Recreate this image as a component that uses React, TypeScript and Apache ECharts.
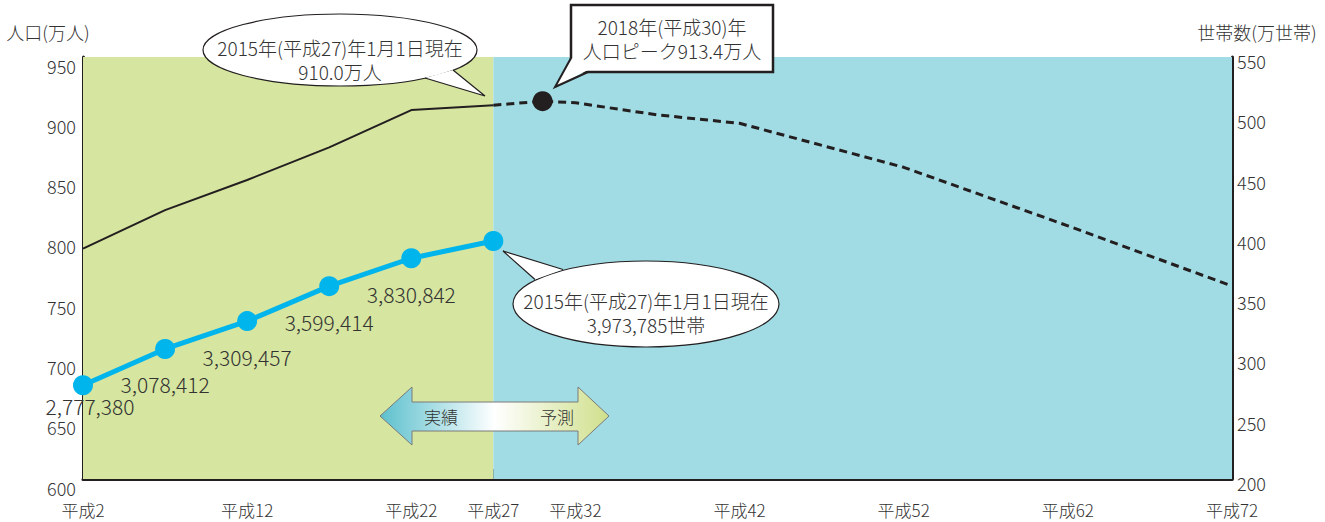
import React, { useEffect, useRef } from 'react';
import * as echarts from 'echarts';

// ---- data ----
const actualYears = [2, 7, 12, 17, 22, 27];
const populationActual = [791, 823, 848, 875, 906, 910.0]; // 万人
const projectionYears = [27, 30, 32, 37, 42, 52, 62, 72];
const populationProjection = [910.0, 913.4, 912, 902, 895, 858.5, 810, 760]; // 万人
const peakYear = 30;
const peakValue = 913.4;
const householdYears = [2, 7, 12, 17, 22, 27];
const households = [2777380, 3078412, 3309457, 3599414, 3830842, 3973785]; // 世帯
const xLabelYears = [2, 12, 22, 27, 32, 42, 52, 62, 72];
const xTickYears = [12, 22, 27, 32, 42, 52, 62];
const actualRange = [2, 27];
const forecastRange = [27, 72];

const FONT = '"Noto Sans CJK JP", "Noto Sans", sans-serif';
const WEIGHT = 300;
const TXT = '#333333';
const INK = '#231f20';
const GREEN = '#d6e59f';
const BLUE = '#a1dbe3';
const CYAN = '#00b5ec';

function text(x: number, y: number, str: string, size: number, extra: any = {}) {
  return {
    type: 'text',
    x,
    y,
    z: 110,
    style: {
      text: str,
      fontSize: size,
      fontFamily: FONT,
      fontWeight: WEIGHT,
      fill: TXT,
      align: 'center',
      verticalAlign: 'middle',
      textAlign: 'center',
      textVerticalAlign: 'middle',
      lineHeight: size,
      ...extra,
    },
  };
}

function buildOption(): any {
  const bubbleStyle = { fill: '#ffffff', stroke: INK, lineWidth: 1.2 };
  const graphic: any[] = [
    // axis names
    text(48, 32, '人口(万人)', 18),
    text(1257, 32, '世帯数(万世帯)', 18),
    // bubble 1 (population 2015)
    { type: 'ellipse', z: 100, shape: { cx: 340, cy: 50, rx: 137, ry: 36 }, style: bubbleStyle },
    { type: 'polygon', z: 101, shape: { points: [[425, 78], [485, 96], [453, 70]] }, style: { fill: '#ffffff' } },
    { type: 'polyline', z: 102, shape: { points: [[425, 78], [485, 96], [453, 70]] }, style: { stroke: INK, lineWidth: 1.2, fill: null } },
    text(340, 47, '2015年(平成27)年1月1日現在', 19),
    text(340, 71, '910.0万人', 19),
    // box 2 (peak)
    { type: 'rect', z: 100, shape: { x: 571, y: 5, width: 202, height: 67 }, style: { fill: '#ffffff', stroke: INK, lineWidth: 2.5 } },
    { type: 'polygon', z: 101, shape: { points: [[572, 58], [555, 87], [588, 70]] }, style: { fill: '#ffffff' } },
    { type: 'polyline', z: 102, shape: { points: [[571, 58], [555, 87], [588, 72]] }, style: { stroke: INK, lineWidth: 2, fill: null } },
    text(672, 26, '2018年(平成30)年', 19),
    text(672, 50, '人口ピーク913.4万人', 19),
    // bubble 3 (households 2015)
    { type: 'ellipse', z: 100, shape: { cx: 646, cy: 304, rx: 133, ry: 43 }, style: bubbleStyle },
    { type: 'polygon', z: 101, shape: { points: [[563, 269.5], [503, 251], [535, 279.5]] }, style: { fill: '#ffffff' } },
    { type: 'polyline', z: 102, shape: { points: [[563, 269.5], [503, 251], [535, 279.5]] }, style: { stroke: INK, lineWidth: 1.2, fill: null } },
    text(646, 300, '2015年(平成27)年1月1日現在', 19),
    text(646, 324, '3,973,785世帯', 19),
    // arrow 実績 / 予測
    {
      type: 'polygon',
      z: 100,
      shape: {
        points: [
          [380, 416], [412, 387], [412, 402], [578, 402], [578, 387],
          [609, 416], [578, 445], [578, 431], [412, 431], [412, 445],
        ],
      },
      style: {
        fill: new echarts.graphic.LinearGradient(0, 0, 1, 0, [
          { offset: 0, color: '#5cc0cd' },
          { offset: 0.5, color: '#ffffff' },
          { offset: 1, color: '#cfe08c' },
        ]),
        stroke: '#7a7a7a',
        lineWidth: 1,
      },
    },
    text(441, 416, '実績', 17),
    text(557, 416, '予測', 17),
  ];

  return {
    animation: false,
    backgroundColor: '#ffffff',
    textStyle: { fontFamily: FONT, fontWeight: WEIGHT },
    grid: { left: 83, right: 93, top: 57, bottom: 43, containLabel: false },
    xAxis: {
      type: 'value',
      min: 2,
      max: 72,
      axisLine: { show: true, lineStyle: { color: INK, width: 3 } },
      axisTick: {
        show: true,
        inside: true,
        length: 10,
        lineStyle: { color: INK, width: 2 },
        customValues: xTickYears,
      },
      axisLabel: {
        customValues: xLabelYears,
        formatter: (v: number) => '平成' + v,
        fontSize: 17,
        color: TXT,
        fontFamily: FONT,
        fontWeight: WEIGHT,
        margin: 22,
        showMinLabel: true,
        showMaxLabel: true,
      },
      splitLine: { show: false },
    },
    yAxis: [
      {
        type: 'value',
        min: 600,
        max: 950,
        interval: 50,
        position: 'left',
        axisLine: { show: true, lineStyle: { color: INK, width: 3 } },
        axisTick: { show: false },
        axisLabel: {
          fontSize: 18,
          color: TXT,
          fontFamily: FONT,
          fontWeight: WEIGHT,
          margin: 7,
          verticalAlign: 'top',
          lineHeight: 17,
        },
        splitLine: { show: false },
      },
      {
        type: 'value',
        min: 200,
        max: 550,
        interval: 50,
        position: 'right',
        axisLine: { show: true, lineStyle: { color: INK, width: 3 } },
        axisTick: { show: false },
        axisLabel: {
          fontSize: 18,
          color: TXT,
          fontFamily: FONT,
          fontWeight: WEIGHT,
          margin: 5,
          verticalAlign: 'top',
          lineHeight: 8,
        },
        splitLine: { show: false },
      },
    ],
    graphic,
    series: [
      {
        name: 'bg',
        type: 'line',
        data: [],
        z: 1,
        silent: true,
        markArea: {
          silent: true,
          data: [
            [{ xAxis: actualRange[0], itemStyle: { color: GREEN, opacity: 1, borderWidth: 0 } }, { xAxis: actualRange[1] }],
            [{ xAxis: forecastRange[0], itemStyle: { color: BLUE, opacity: 1, borderWidth: 0 } }, { xAxis: forecastRange[1] }],
          ],
        },
      },
      {
        name: '人口(実績)',
        type: 'line',
        yAxisIndex: 0,
        z: 5,
        symbol: 'none',
        data: actualYears.map((y, i) => [y, populationActual[i]]),
        lineStyle: { color: INK, width: 2 },
      },
      {
        name: '人口(予測)',
        type: 'line',
        yAxisIndex: 0,
        z: 5,
        symbol: 'none',
        data: projectionYears.map((y, i) => [y, populationProjection[i]]),
        lineStyle: { color: INK, width: 3, type: [8, 5] },
      },
      {
        name: '人口ピーク',
        type: 'scatter',
        yAxisIndex: 0,
        z: 6,
        symbol: 'circle',
        symbolSize: 20,
        data: [[peakYear, peakValue]],
        itemStyle: { color: INK, opacity: 1 },
      },
      {
        name: '世帯数',
        type: 'line',
        yAxisIndex: 1,
        z: 7,
        symbol: 'circle',
        symbolSize: 20,
        lineStyle: { color: CYAN, width: 5 },
        itemStyle: { color: CYAN },
        label: {
          show: true,
          position: 'bottom',
          distance: 15,
          fontSize: 21,
          lineHeight: 21,
          color: TXT,
          fontFamily: FONT,
          fontWeight: WEIGHT,
          formatter: (p: any) => households[p.dataIndex].toLocaleString('en-US'),
        },
        data: householdYears.map((y, i) => {
          const item: any = { value: [y, households[i] / 10000] };
          if (i === 0) item.label = { offset: [7, -15] };
          if (i === householdYears.length - 1) item.label = { show: false };
          return item;
        }),
      },
    ],
  };
}

export default function App() {
  const ref = useRef<HTMLDivElement>(null);
  useEffect(() => {
    if (!ref.current) return;
    const chart = echarts.init(ref.current, null, { renderer: 'svg' });
    chart.setOption(buildOption());
    return () => chart.dispose();
  }, []);
  return (
    <div
      ref={ref}
      style={{ position: 'absolute', left: 0, top: 0, width: 1325, height: 522 }}
    />
  );
}
